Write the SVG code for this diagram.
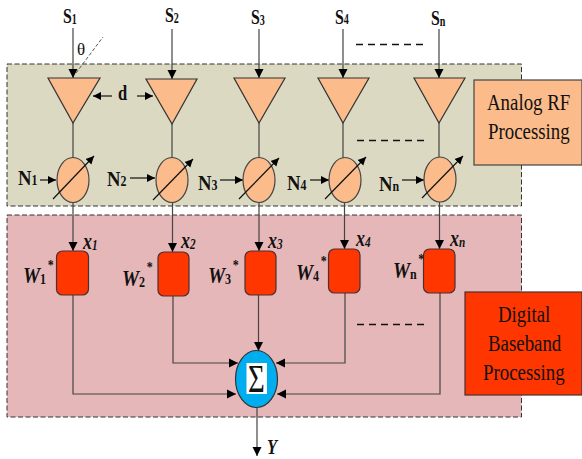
<svg xmlns="http://www.w3.org/2000/svg" width="582" height="459" viewBox="0 0 582 459">
<defs>
<marker id="a" markerUnits="userSpaceOnUse" markerWidth="10" markerHeight="10" refX="9" refY="5" orient="auto"><path d="M0 0.5L9 5L0 9.5z" fill="#000"/></marker>
<marker id="b" markerUnits="userSpaceOnUse" markerWidth="9" markerHeight="9" refX="8" refY="4.5" orient="auto"><path d="M0 0.500L8 4.500L0 8.500z" fill="#000"/></marker>
</defs>
<style>
text{font-family:"Liberation Serif",serif;fill:#111}
.s{font-size:22px;font-weight:bold}
.sub{font-size:14px;font-weight:bold}
.v{font-size:24px;font-weight:bold;font-style:italic}
.vs{font-size:15px}
.ws{font-size:15px;font-style:normal}
.l{font-size:23px}
.tri{fill:#fbbb8a;stroke:#333;stroke-width:1.2}
.ps{fill:#fbbb8a;stroke:#444;stroke-width:1.2}
.w{fill:#ff3600;stroke:#4a3030;stroke-width:1.2}
.c{fill:none;stroke:#444;stroke-width:1.2}
.ar{marker-end:url(#a)}
.sm{marker-end:url(#b);stroke:#111}
.dash{stroke:#111;stroke-width:1.6;stroke-dasharray:7 5;fill:none}
</style>
<g id="analog-region"><rect x="7" y="64" width="514.500" height="142" fill="#dcd9c3" stroke="#333" stroke-width="1" stroke-dasharray="5 2.500"/></g>
<g id="digital-region"><rect x="7" y="215" width="514.500" height="202" fill="#e6b7b8" stroke="#333" stroke-width="1" stroke-dasharray="5 2.500"/></g>
<g id="connectors">
<path class="c ar" d="M73 28V78"/><path class="c ar" d="M172 29V79"/><path class="c ar" d="M259 29V78"/><path class="c ar" d="M343 29V78"/><path class="c ar" d="M439 29V78"/>
<path d="M76 73L103 37" fill="none" stroke="#555" stroke-width="1" stroke-dasharray="3.500 2"/>
<path class="c" d="M73 123V158"/><path class="c" d="M172 124V158"/><path class="c" d="M259 123V157"/><path class="c" d="M343 123V158"/><path class="c" d="M439 123V157"/>
<path class="c ar" d="M73 202V251"/><path class="c ar" d="M172.500 202V252"/><path class="c ar" d="M259 202V251"/><path class="c ar" d="M344.500 203V249"/><path class="c ar" d="M439.500 202V249"/>
<path class="c ar" d="M73 295V394H236"/><path class="c ar" d="M173 296V363H238"/><path class="c ar" d="M258.500 295V351"/><path class="c ar" d="M345 293V363H276"/><path class="c ar" d="M440 293V394H277"/>
<path class="c ar" d="M257 408V456"/>
<path class="c sm" d="M112 96H93"/><path class="c sm" d="M137 96H153"/>
<path class="c sm" d="M40 180H56"/><path class="c sm" d="M130 178H155"/><path class="c sm" d="M220 180H243"/><path class="c sm" d="M310 180H329"/><path class="c sm" d="M402 180H424"/>
<path class="dash" d="M356 44.500H426"/><path class="dash" d="M357 140.500H427"/><path class="dash" d="M357 324.500H427"/>
</g>
<g id="ant-1"><path class="tri" d="M48 78H100L73 123z"/></g>
<g id="ant-2"><path class="tri" d="M146 79H197L172 124z"/></g>
<g id="ant-3"><path class="tri" d="M234 78H285L259 123z"/></g>
<g id="ant-4"><path class="tri" d="M318 78H369L343 123z"/></g>
<g id="ant-n"><path class="tri" d="M414 78H465L439 123z"/></g>
<g id="ps-1"><ellipse class="ps" cx="73" cy="180" rx="16" ry="22.500"/><path class="c sm" d="M53 199L94 156"/></g>
<g id="ps-2"><ellipse class="ps" cx="172" cy="180" rx="16" ry="22.500"/><path class="c sm" d="M153 200L193 159"/></g>
<g id="ps-3"><ellipse class="ps" cx="259" cy="180" rx="16" ry="22.500"/><path class="c sm" d="M239 199L279 158"/></g>
<g id="ps-4"><ellipse class="ps" cx="345" cy="180" rx="16" ry="22.500"/><path class="c sm" d="M325 199L366 157"/></g>
<g id="ps-n"><ellipse class="ps" cx="440" cy="179.500" rx="16" ry="22.500"/><path class="c sm" d="M422 198L463 156"/></g>
<g id="w-1"><rect class="w" x="56.500" y="251" width="32" height="44" rx="6"/></g>
<g id="w-2"><rect class="w" x="158" y="252" width="31" height="44" rx="6"/></g>
<g id="w-3"><rect class="w" x="245" y="251" width="31" height="44" rx="6"/></g>
<g id="w-4"><rect class="w" x="328.500" y="249" width="31.500" height="44" rx="6"/></g>
<g id="w-n"><rect class="w" x="423.500" y="249" width="31.500" height="44" rx="6"/></g>
<g id="sum"><ellipse cx="256.500" cy="379" rx="21" ry="28.500" fill="#00adef" stroke="#333" stroke-width="1.2"/><rect x="246.500" y="363" width="20.500" height="31" fill="#fff"/><text transform="translate(256.500 392) scale(.72 1)" text-anchor="middle" font-size="40">Σ</text></g>
<g id="analog-label"><rect x="474" y="80" width="108" height="85" fill="#fbbb8a" stroke="#444" stroke-width="1.2"/><text class="l" transform="translate(487 110) scale(.82 1)">Analog RF</text><text class="l" transform="translate(488 139) scale(.82 1)">Processing</text></g>
<g id="digital-label"><rect x="465" y="292" width="117" height="103" fill="#ff3600" stroke="#4a3030" stroke-width="1.200"/><text class="l" transform="translate(498 322) scale(.82 1)">Digital</text><text class="l" transform="translate(488 351) scale(.82 1)">Baseband</text><text class="l" transform="translate(483 380) scale(.82 1)">Processing</text></g>
<g id="labels">
<text class="s" transform="translate(63 23) scale(.72 1)">S<tspan class="sub" dy="1">1</tspan></text>
<text class="s" transform="translate(165 22) scale(.72 1)">S<tspan class="sub" dy="1">2</tspan></text>
<text class="s" transform="translate(251 24) scale(.72 1)">S<tspan class="sub" dy="1">3</tspan></text>
<text class="s" transform="translate(335 24) scale(.72 1)">S<tspan class="sub" dy="0">4</tspan></text>
<text class="s" transform="translate(431 25) scale(.72 1)">S<tspan class="sub" dy="1">n</tspan></text>
<text x="77" y="55" font-size="17">θ</text>
<text transform="translate(118 100) scale(.75 1)" font-size="22" font-weight="bold">d</text>
<text class="s" transform="translate(18 185) scale(.85 1)">N<tspan class="sub" dy="0">1</tspan></text>
<text class="s" transform="translate(107 186) scale(.85 1)">N<tspan class="sub" dy="0">2</tspan></text>
<text class="s" transform="translate(198 190) scale(.85 1)">N<tspan class="sub" dy="0">3</tspan></text>
<text class="s" transform="translate(287 190) scale(.85 1)">N<tspan class="sub" dy="0">4</tspan></text>
<text class="s" transform="translate(379 191) scale(.85 1)">N<tspan class="sub" dy="0">n</tspan></text>
<text class="v" transform="translate(83 249) scale(.75 1)">x<tspan class="vs" dy="1">1</tspan></text>
<text class="v" transform="translate(181 248) scale(.75 1)">x<tspan class="vs" dy="1">2</tspan></text>
<text class="v" transform="translate(268 248) scale(.75 1)">x<tspan class="vs" dy="1">3</tspan></text>
<text class="v" transform="translate(356 246) scale(.75 1)">x<tspan class="vs" dy="1">4</tspan></text>
<text class="v" transform="translate(450 246) scale(.75 1)">x<tspan class="vs" dy="1">n</tspan></text>
<text class="v" transform="translate(23 283) scale(.8 1)">W<tspan class="ws" dy="1">1</tspan><tspan class="ws" dx="2" dy="-14">*</tspan></text>
<text class="v" transform="translate(122 286) scale(.8 1)">W<tspan class="ws" dy="1">2</tspan><tspan class="ws" dx="2" dy="-15">*</tspan></text>
<text class="v" transform="translate(208 283) scale(.8 1)">W<tspan class="ws" dy="1">3</tspan><tspan class="ws" dx="2" dy="-14">*</tspan></text>
<text class="v" transform="translate(296 280) scale(.8 1)">W<tspan class="ws" dy="1">4</tspan><tspan class="ws" dx="2" dy="-15">*</tspan></text>
<text class="v" transform="translate(393 278) scale(.8 1)">W<tspan class="ws" dy="1">n</tspan><tspan class="ws" dx="2" dy="-15">*</tspan></text>
<text transform="translate(267 454) scale(.75 1)" font-size="22" font-weight="bold" font-style="italic">Y</text>
</g>
</svg>
